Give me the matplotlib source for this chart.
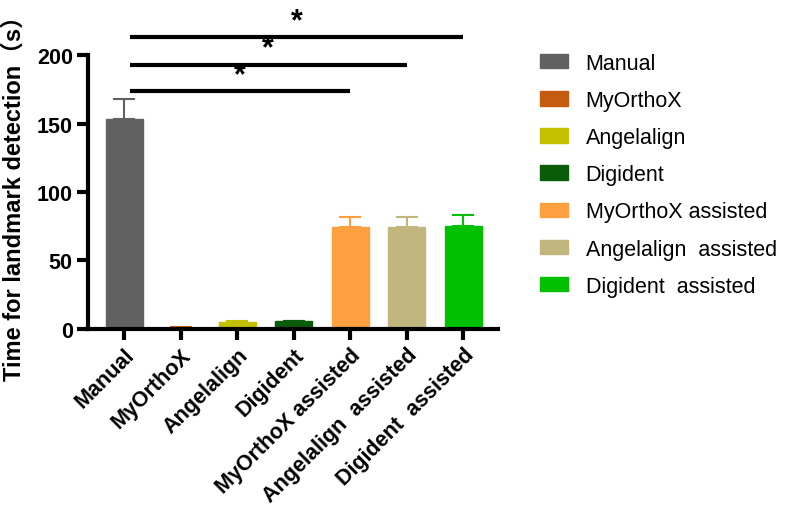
import matplotlib.pyplot as plt

plt.rcParams['font.family'] = ['Liberation Sans', 'Noto Sans CJK SC', 'DejaVu Sans']

groups = ["Manual", "MyOrthoX", "Angelalign", "Digident",
          "MyOrthoX assisted", "Angelalign  assisted", "Digident  assisted"]
means = [153, 1, 5, 5.5, 74.5, 74.5, 75.5]
errors = [15, 0.3, 0.5, 0.6, 7.5, 7, 7.5]
colors = ["#616161", "#C55A11", "#C4C000", "#0A5C0A",
          "#FFA040", "#C1B67E", "#00C000"]

# significance brackets: (start group, end group, height)
sig_pairs = [(0, 4, 173.5), (0, 5, 193), (0, 6, 213)]


def main():
    fig = plt.figure(figsize=(7.86, 5.06), dpi=100)
    ax = fig.add_axes([0.112, 0.348, 0.522, 0.541])

    x = list(range(len(groups)))
    ax.bar(x, means, width=0.65, color=colors, edgecolor=colors,
           linewidth=1, zorder=2)
    for i in x:
        ax.errorbar(i, means[i], yerr=[[0], [errors[i]]], fmt='none',
                    ecolor=colors[i], elinewidth=1.5, capsize=8,
                    capthick=1.5, zorder=1)

    # significance lines
    for a, b, h in sig_pairs:
        ax.plot([a + 0.1, b], [h, h], color='black', lw=3,
                clip_on=False, solid_capstyle='butt')
        ax.text((a + b) / 2 + 0.05, h + 1, "*", ha='center', va='bottom',
                fontsize=22, fontweight='bold', clip_on=False)

    ax.set_xlim(-0.64, 6.62)
    ax.set_ylim(0, 200)
    ax.set_yticks([0, 50, 100, 150, 200])
    ax.set_xticks(x)
    ax.set_xticklabels(groups, rotation=45, ha='right',
                       rotation_mode='anchor', fontsize=15.5, fontweight='bold')
    for lab in ax.get_yticklabels():
        lab.set_fontsize(15.5)
        lab.set_fontweight('bold')
    ax.set_ylabel("Time for landmark detection（s）", fontsize=17,
                  fontweight='bold', labelpad=8)

    for side in ['top', 'right']:
        ax.spines[side].set_visible(False)
    for side in ['left', 'bottom']:
        ax.spines[side].set_linewidth(3)
    ax.tick_params(axis='both', width=3, length=8, direction='out', pad=3)

    handles = [plt.Rectangle((0, 0), 1, 1, color=c) for c in colors]
    fig.legend(handles, groups, loc='upper left',
               bbox_to_anchor=(0.663, 0.932), frameon=False, fontsize=15.5,
               handlelength=1.3, handleheight=0.65, labelspacing=0.75,
               handletextpad=0.8)

    fig.savefig("out.png", dpi=100)


if __name__ == "__main__":
    main()
